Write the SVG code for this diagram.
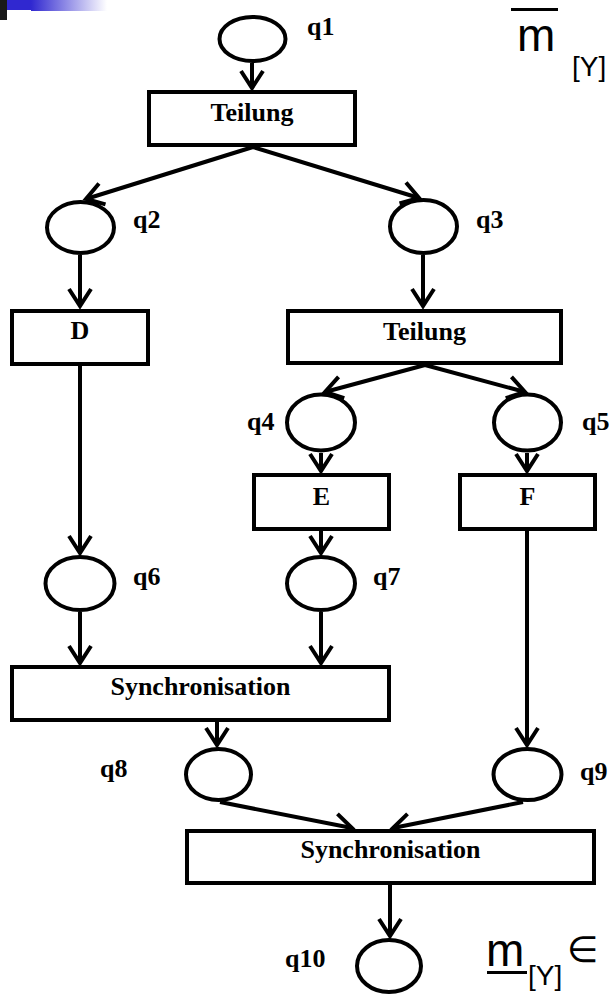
<svg xmlns="http://www.w3.org/2000/svg" width="609" height="994" viewBox="0 0 609 994">
  <defs>
    <linearGradient id="fade" x1="0" y1="0" x2="1" y2="0">
      <stop offset="0" stop-color="#3028d0"/>
      <stop offset="1" stop-color="#3028d0" stop-opacity="0"/>
    </linearGradient>
    <marker id="arrow" markerUnits="userSpaceOnUse" viewBox="-20 -20 40 40" markerWidth="40" markerHeight="40" refX="0" refY="0" orient="auto" overflow="visible">
      <path d="M-17,-11 L0,0 L-17,11" fill="none" stroke="#000" stroke-width="4"/>
    </marker>
  </defs>
  <style>
    .place { fill: #fff; stroke: #000; stroke-width: 4; }
    .trans { fill: #fff; stroke: #000; stroke-width: 4; }
    .lbl { font-family: "Liberation Serif", "Times New Roman", serif; font-weight: bold; font-size: 26px; fill: #000; }
    .mid { text-anchor: middle; }
    .edge { fill: none; stroke: #000; stroke-width: 4; marker-end: url(#arrow); }
    .edge-plain { fill: none; stroke: #000; stroke-width: 4; }
    .math { font-family: "Liberation Sans", Arial, sans-serif; fill: #000; }
  </style>

  <rect width="609" height="994" fill="#fff"/>

  <!-- corner decoration -->
  <rect x="0" y="0" width="7" height="20" fill="#1a1a1a"/>
  <rect x="7" y="0" width="24" height="10" fill="#3028d0"/>
  <rect x="31" y="0" width="76" height="11" fill="url(#fade)"/>

  <!-- connectors -->
  <g id="connectors">
    <path class="edge" d="M252,63 L252,88"/>
    <path class="edge" d="M253,147 L86,199"/>
    <path class="edge" d="M253,147 L419,198"/>
    <path class="edge" d="M80,255 L80,306"/>
    <path class="edge" d="M423,255 L423,306"/>
    <path class="edge" d="M425,365 L325,392"/>
    <path class="edge" d="M425,365 L525,392"/>
    <path class="edge" d="M321,453 L321,471"/>
    <path class="edge" d="M527,453 L527,471"/>
    <path class="edge" d="M80,366 L80,553"/>
    <path class="edge" d="M321,531 L321,553"/>
    <path class="edge" d="M80,612 L80,663"/>
    <path class="edge" d="M321,612 L321,663"/>
    <path class="edge" d="M217,722 L217,745"/>
    <path class="edge" d="M527,531 L527,745"/>
    <path class="edge" d="M220,802 L352,828"/>
    <path class="edge" d="M523,802 L393,828"/>
    <path class="edge" d="M390,885 L390,936"/>
  </g>

  <!-- places -->
  <g id="q1"><ellipse class="place" cx="252.5" cy="39" rx="33" ry="22"/><text class="lbl" x="307" y="35">q1</text></g>
  <g id="q2"><ellipse class="place" cx="80.5" cy="227.5" rx="33.5" ry="25.5"/><text class="lbl" x="133" y="228">q2</text></g>
  <g id="q3"><ellipse class="place" cx="423.5" cy="226.5" rx="33.5" ry="26.5"/><text class="lbl" x="476" y="228">q3</text></g>
  <g id="q4"><ellipse class="place" cx="321" cy="422.5" rx="34" ry="28"/><text class="lbl" x="247" y="430">q4</text></g>
  <g id="q5"><ellipse class="place" cx="527.5" cy="422.5" rx="33.5" ry="28"/><text class="lbl" x="582" y="430">q5</text></g>
  <g id="q6"><ellipse class="place" cx="80" cy="583.5" rx="34.5" ry="26.5"/><text class="lbl" x="133" y="585">q6</text></g>
  <g id="q7"><ellipse class="place" cx="321" cy="583.5" rx="34" ry="26.5"/><text class="lbl" x="373" y="585">q7</text></g>
  <g id="q8"><ellipse class="place" cx="218.5" cy="774.5" rx="32.5" ry="25.5"/><text class="lbl" x="100" y="777">q8</text></g>
  <g id="q9"><ellipse class="place" cx="527.5" cy="774.5" rx="34" ry="25.5"/><text class="lbl" x="580" y="780">q9</text></g>
  <g id="q10"><ellipse class="place" cx="389" cy="966" rx="32" ry="26"/><text class="lbl" x="285" y="967">q10</text></g>

  <!-- transitions -->
  <g id="teilung1"><rect class="trans" x="149" y="92" width="206" height="53"/><text class="lbl mid" x="252" y="121">Teilung</text></g>
  <g id="d"><rect class="trans" x="12" y="311" width="136" height="53"/><text class="lbl mid" x="80" y="339">D</text></g>
  <g id="teilung2"><rect class="trans" x="288" y="311" width="273" height="52"/><text class="lbl mid" x="424.5" y="340">Teilung</text></g>
  <g id="e"><rect class="trans" x="254" y="475" width="135" height="54"/><text class="lbl mid" x="321.5" y="505">E</text></g>
  <g id="f"><rect class="trans" x="460" y="475" width="135" height="54"/><text class="lbl mid" x="527.5" y="505">F</text></g>
  <g id="sync1"><rect class="trans" x="12" y="667" width="377" height="53"/><text class="lbl mid" x="200.5" y="695">Synchronisation</text></g>
  <g id="sync2"><rect class="trans" x="187" y="831" width="407" height="52"/><text class="lbl mid" x="390.5" y="858">Synchronisation</text></g>

  <!-- marking notation, top right -->
  <g id="m-upper">
    <rect x="511" y="8" width="47" height="3" fill="#000"/>
    <text class="math" x="517" y="51" font-size="46">m</text>
    <text class="math" x="572" y="76" font-size="28">[Y]</text>
  </g>

  <!-- marking notation, bottom right -->
  <g id="m-lower">
    <text class="math" x="486" y="966" font-size="46">m</text>
    <rect x="487" y="971" width="40" height="3" fill="#000"/>
    <text class="math" x="528" y="985" font-size="28">[Y]</text>
    <text x="567" y="962" font-size="36" font-family="DejaVu Sans, sans-serif" fill="#000">∈</text>
  </g>
</svg>
